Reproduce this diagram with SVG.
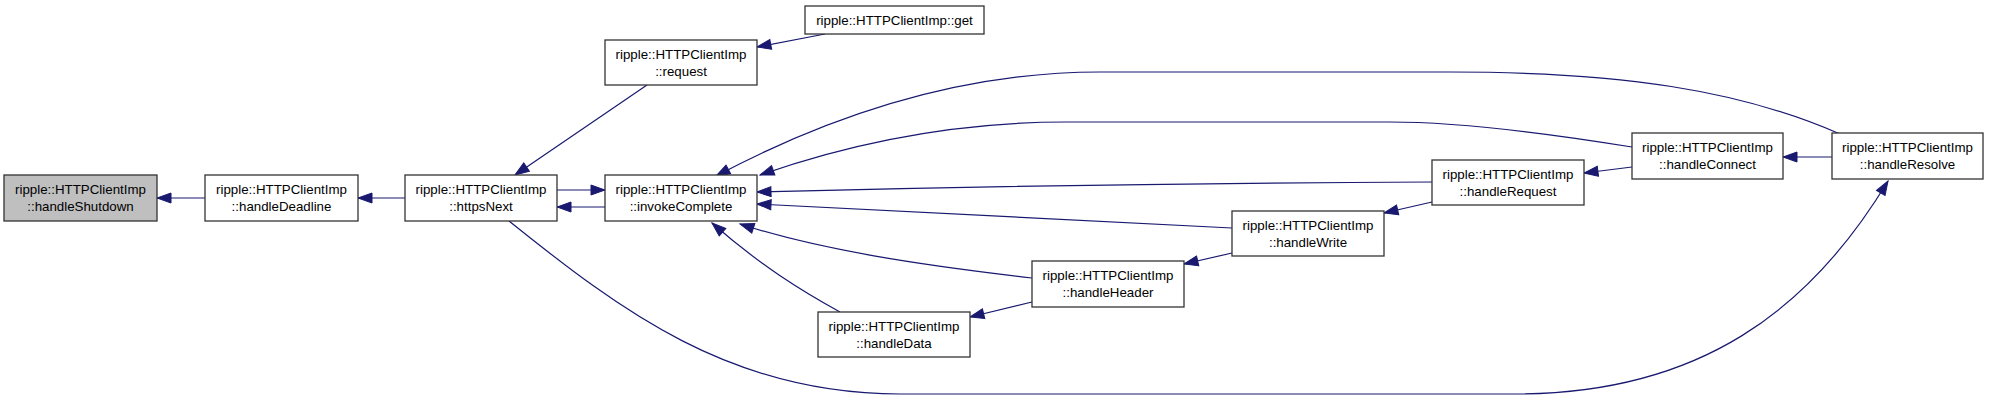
<svg xmlns="http://www.w3.org/2000/svg" width="1989" height="400" viewBox="0 0 1989 400">
<style>
.n rect{fill:#ffffff;stroke:#333333;stroke-width:1.3}
.n.focus rect{fill:#bfbfbf}
.n text{font-family:"Liberation Sans",Arial,sans-serif;font-size:13.3px;fill:#000000;text-anchor:middle}
.e path{fill:none;stroke:#191970;stroke-width:1.2;marker-end:url(#ah)}
</style>
<defs>
<marker id="ah" markerUnits="userSpaceOnUse" markerWidth="15" markerHeight="11" refX="14" refY="5" orient="auto" overflow="visible">
<path d="M0,0 L14,5 L0,10 z" fill="#191970" stroke="#191970" stroke-width="1"/>
</marker>
</defs>
<rect width="1989" height="400" fill="#ffffff"/>
<g id="connectors" class="e">
<path d="M205,198 L157,198"/>
<path d="M405,198 L358,198"/>
<path d="M647,85 L515,175"/>
<path d="M825,34 L757,47"/>
<path d="M557,190 L605,190"/>
<path d="M605,207 L557,207"/>
<path d="M1840,134 C1740,90 1620,72 1450,72 L1100,72 C980,72 850,105 716,176"/>
<path d="M1632,147 C1540,132 1450,122 1389,122 L1067,122 C960,122 860,140 760,175"/>
<path d="M1432,182 C1200,183 950,187 757,192"/>
<path d="M1232,228 L757,204"/>
<path d="M1032,278 C920,265 820,250 740,224"/>
<path d="M840,312 C800,290 760,265 712,223"/>
<path d="M1232,253 L1184,264"/>
<path d="M1432,202 L1384,213"/>
<path d="M1032,302 L970,317"/>
<path d="M1632,167 L1584,173"/>
<path d="M1832,157 L1783,157"/>
<path d="M509,221 C620,310 730,394 900,394 L1515,394 C1700,394 1810,310 1888,181"/>
</g>
<g id="handleShutdown" class="n focus"><rect x="4" y="175" width="153" height="46"/><text x="80.5" y="194">ripple::HTTPClientImp</text><text x="80.5" y="211">::handleShutdown</text></g>
<g id="handleDeadline" class="n"><rect x="205" y="175" width="153" height="46"/><text x="281.5" y="194">ripple::HTTPClientImp</text><text x="281.5" y="211">::handleDeadline</text></g>
<g id="httpsNext" class="n"><rect x="405" y="175" width="152" height="46"/><text x="481" y="194">ripple::HTTPClientImp</text><text x="481" y="211">::httpsNext</text></g>
<g id="invokeComplete" class="n"><rect x="605" y="175" width="152" height="46"/><text x="681" y="194">ripple::HTTPClientImp</text><text x="681" y="211">::invokeComplete</text></g>
<g id="request" class="n"><rect x="605" y="40" width="152" height="45"/><text x="681" y="59">ripple::HTTPClientImp</text><text x="681" y="76">::request</text></g>
<g id="get" class="n"><rect x="805" y="6" width="179" height="28"/><text x="894.5" y="24.5">ripple::HTTPClientImp::get</text></g>
<g id="handleData" class="n"><rect x="818" y="312" width="152" height="45"/><text x="894" y="331">ripple::HTTPClientImp</text><text x="894" y="348">::handleData</text></g>
<g id="handleHeader" class="n"><rect x="1032" y="261" width="152" height="46"/><text x="1108" y="280">ripple::HTTPClientImp</text><text x="1108" y="297">::handleHeader</text></g>
<g id="handleWrite" class="n"><rect x="1232" y="211" width="152" height="45"/><text x="1308" y="230">ripple::HTTPClientImp</text><text x="1308" y="247">::handleWrite</text></g>
<g id="handleRequest" class="n"><rect x="1432" y="160" width="152" height="45"/><text x="1508" y="179">ripple::HTTPClientImp</text><text x="1508" y="196">::handleRequest</text></g>
<g id="handleConnect" class="n"><rect x="1632" y="133" width="151" height="46"/><text x="1707.5" y="152">ripple::HTTPClientImp</text><text x="1707.5" y="169">::handleConnect</text></g>
<g id="handleResolve" class="n"><rect x="1832" y="133" width="151" height="46"/><text x="1907.5" y="152">ripple::HTTPClientImp</text><text x="1907.5" y="169">::handleResolve</text></g>
</svg>
